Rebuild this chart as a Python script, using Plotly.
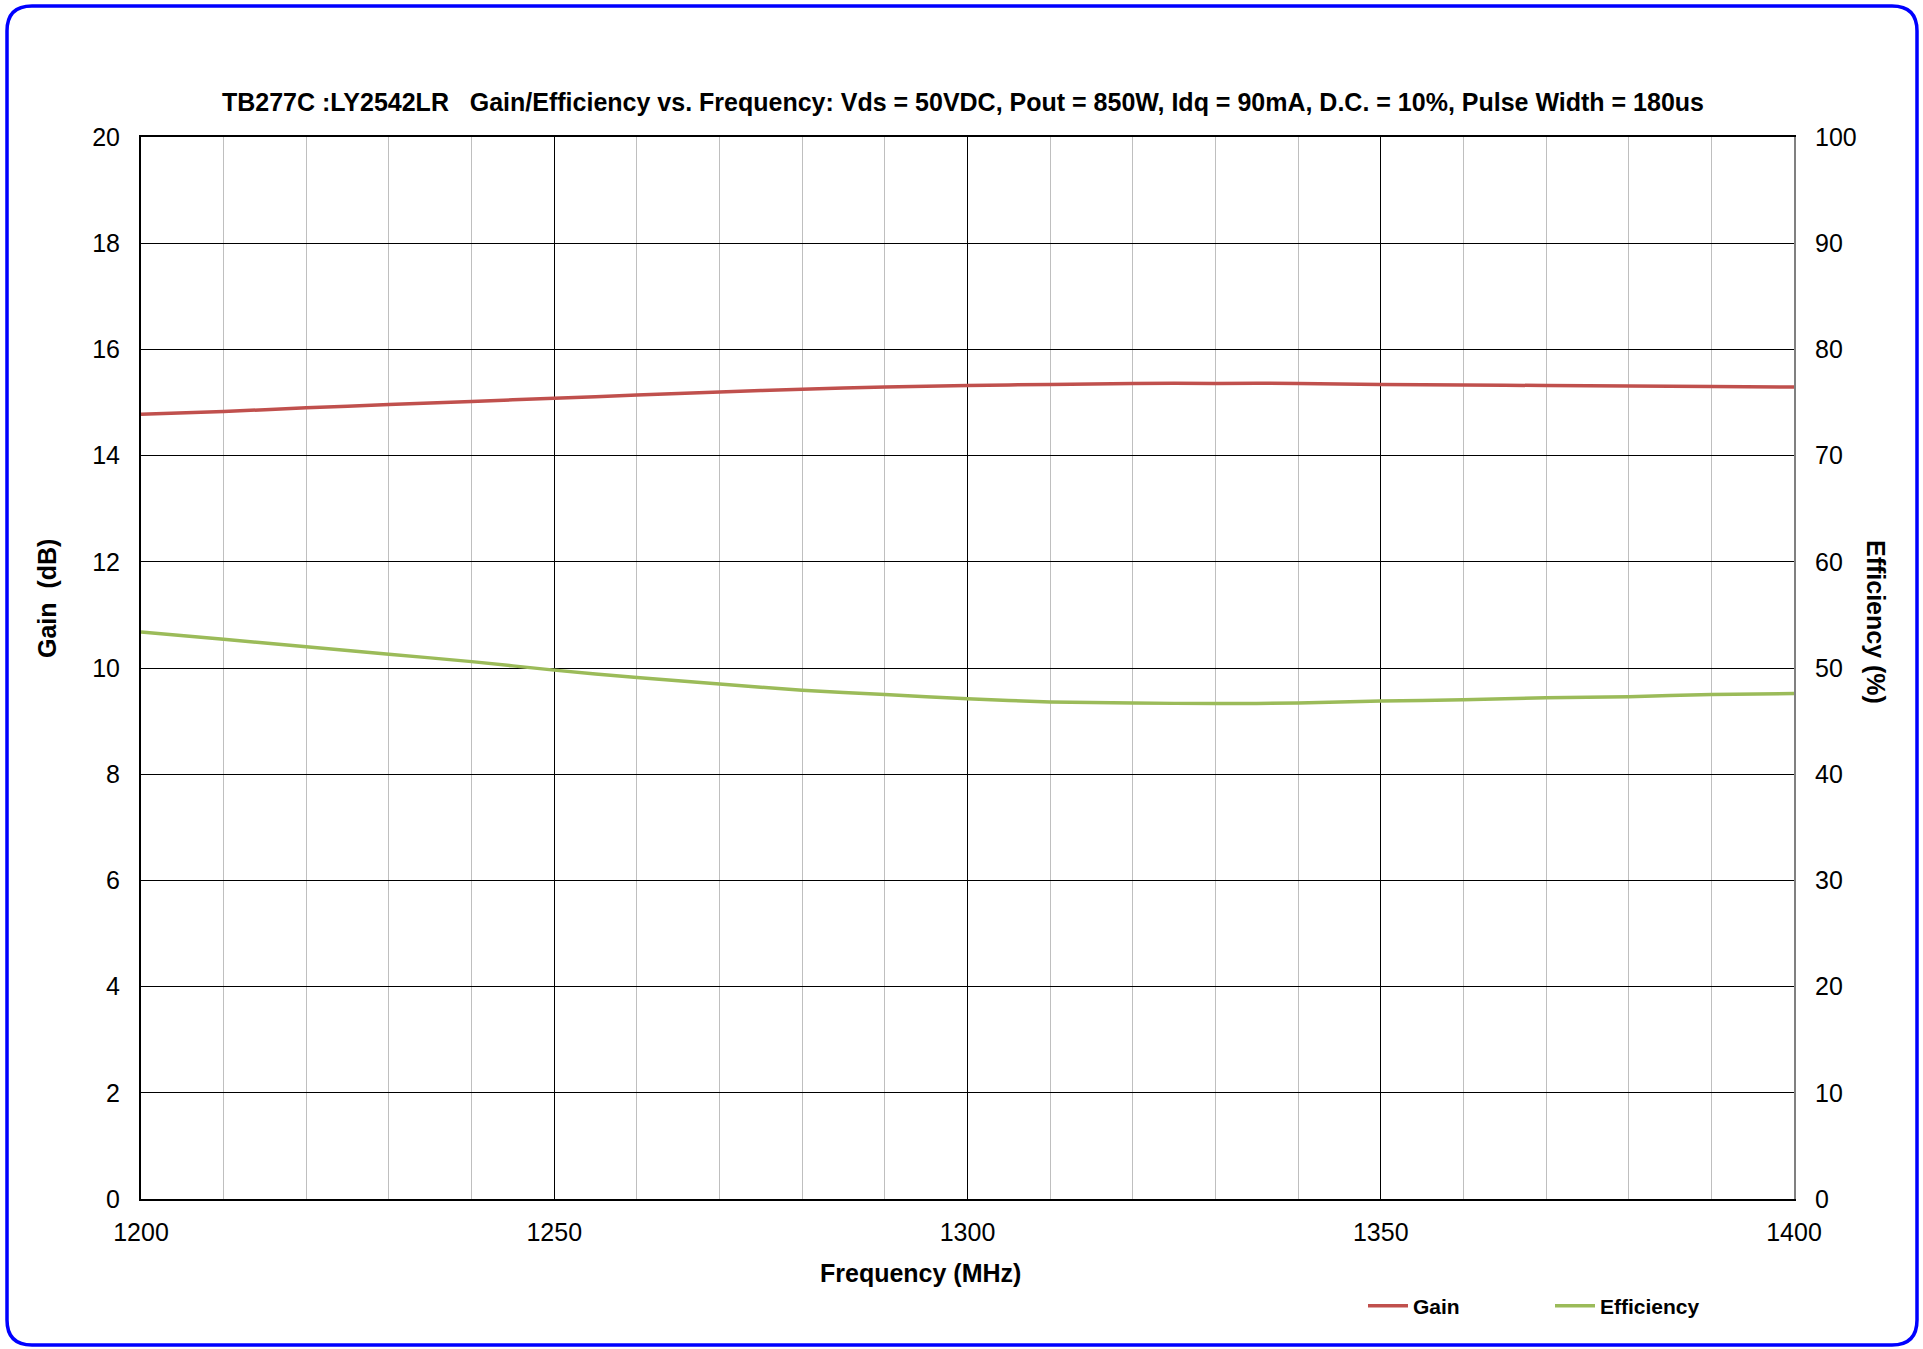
import plotly.graph_objects as go

freq = [1200, 1210, 1220, 1230, 1240, 1250, 1260, 1270, 1280, 1290, 1300,
        1310, 1320, 1330, 1340, 1350, 1360, 1370, 1380, 1390, 1400]
gain_db = [14.78, 14.83, 14.90, 14.96, 15.02, 15.08, 15.14, 15.20, 15.25, 15.29, 15.32,
           15.34, 15.36, 15.36, 15.36, 15.34, 15.33, 15.32, 15.31, 15.30, 15.29]
efficiency_pct = [53.4, 52.7, 52.0, 51.3, 50.6, 49.8, 49.1, 48.5, 47.9, 47.5, 47.1,
                  46.8, 46.7, 46.65, 46.7, 46.9, 47.0, 47.2, 47.3, 47.5, 47.6]

FONT = "Arial, Liberation Sans, sans-serif"
W, H = 1921, 1347
L, R, T, B = 141, W - 1794, 137, H - 1199
PW, PH = W - L - R, H - T - B


def px_x(p):
    return (p - L) / PW


def px_y(p):
    return (H - B - p) / PH


fig = go.Figure()
fig.add_trace(go.Scatter(x=freq, y=gain_db, name="Gain", mode="lines",
                         line=dict(color="#C0504D", width=3.5, shape="spline", smoothing=0.6)))
fig.add_trace(go.Scatter(x=freq, y=efficiency_pct, name="Efficiency", mode="lines", yaxis="y2",
                         line=dict(color="#9BBB59", width=3.5, shape="spline", smoothing=0.6)))

# rounded blue frame
x0, x1 = px_x(7), px_x(1917)
y0, y1 = px_y(1345), px_y(6)
rx, ry = 25 / PW, 25 / PH
path = (f"M {x0+rx},{y1} L {x1-rx},{y1} Q {x1},{y1} {x1},{y1-ry} "
        f"L {x1},{y0+ry} Q {x1},{y0} {x1-rx},{y0} "
        f"L {x0+rx},{y0} Q {x0},{y0} {x0},{y0+ry} "
        f"L {x0},{y1-ry} Q {x0},{y1} {x0+rx},{y1} Z")

fig.update_layout(
    width=W, height=H,
    margin=dict(l=L, r=R, t=T, b=B, autoexpand=False),
    paper_bgcolor="white", plot_bgcolor="white",
    font=dict(family=FONT, size=25, color="black"),
    showlegend=True,
    title=dict(text="<b>TB277C :LY2542LR   Gain/Efficiency vs. Frequency: Vds = 50VDC, Pout = 850W, Idq = 90mA, D.C. = 10%, Pulse Width = 180us</b>",
               x=px_x(963), xref="paper", xanchor="center",
               y=1 - 102 / H, yref="container", yanchor="middle",
               font=dict(family=FONT, size=25, color="black")),
    xaxis=dict(range=[1200, 1400], dtick=50, tick0=1200,
               showgrid=True, gridcolor="black", gridwidth=1.3,
               minor=dict(dtick=10, showgrid=True, gridcolor="#BFBFBF", gridwidth=1),
               showline=True, linecolor="black", linewidth=2, mirror=True,
               ticks="", ticklabelstandoff=10, zeroline=False,
               tickfont=dict(size=25)),
    yaxis=dict(range=[0, 20], dtick=2, tick0=0,
               showgrid=True, gridcolor="black", gridwidth=1.3,
               showline=True, linecolor="black", linewidth=2,
               ticks="", ticklabelstandoff=14, zeroline=False,
               tickfont=dict(size=25)),
    yaxis2=dict(range=[0, 100], dtick=10, tick0=0, overlaying="y", side="right",
                showgrid=False, showline=True, linecolor="#808080", linewidth=2,
                ticks="", ticklabelstandoff=14, zeroline=False,
                tickfont=dict(size=25)),
    legend=dict(orientation="h", x=px_x(1363), xanchor="left", y=px_y(1306), yanchor="middle",
                font=dict(family=FONT, size=21, color="black", weight="bold"),
                bgcolor="rgba(0,0,0,0)", entrywidth=132, itemwidth=40),
    shapes=[dict(type="path", xref="paper", yref="paper", path=path,
                 line=dict(color="#0000FF", width=3.5), fillcolor="rgba(0,0,0,0)", layer="above")],
    annotations=[
        dict(text="<b>Gain  (dB)</b>", xref="paper", yref="paper", x=px_x(47), y=px_y(599),
             textangle=-90, showarrow=False, font=dict(size=25), xanchor="center", yanchor="middle"),
        dict(text="<b>Efficiency (%)</b>", xref="paper", yref="paper", x=px_x(1876), y=px_y(622),
             textangle=90, showarrow=False, font=dict(size=25), xanchor="center", yanchor="middle"),
        dict(text="<b>Frequency (MHz)</b>", xref="paper", yref="paper", x=px_x(920), y=px_y(1273),
             showarrow=False, font=dict(size=25), xanchor="center", yanchor="middle"),
    ],
)

fig.write_html("out.html", config={"displayModeBar": False},
               post_script="document.body.style.margin='0';document.body.style.overflow='hidden';")
